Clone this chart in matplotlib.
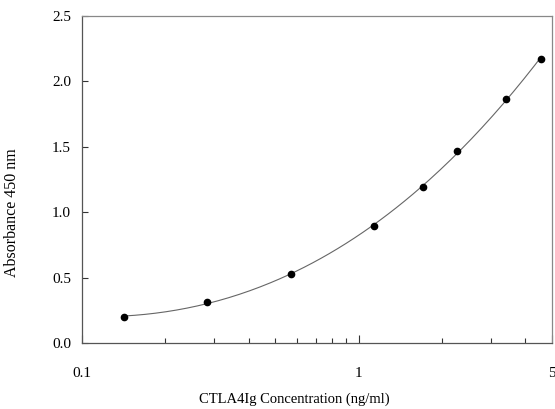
import numpy as np
import matplotlib
matplotlib.use("Agg")
import matplotlib.pyplot as plt
from matplotlib.ticker import FixedLocator, FixedFormatter, NullFormatter

# Data
conc = [0.142, 0.284, 0.569, 1.138, 1.706, 2.275, 3.413, 4.55]
absorb = [0.201, 0.316, 0.525, 0.892, 1.195, 1.470, 1.868, 2.169]
xtick_vals = [0.1, 1, 5]
xtick_labels = ["0.1", "1", "5"]
ytick_vals = [0.0, 0.5, 1.0, 1.5, 2.0, 2.5]
ytick_labels = ["0.0", "0.5", "1.0", "1.5", "2.0", "2.5"]

plt.rcParams['font.family'] = ['Liberation Serif', 'DejaVu Serif']

fig = plt.figure(figsize=(5.55, 4.09), dpi=100)
ax = fig.add_axes([82/555, 66/409, 470/555, 327/409])

# smooth fitted curve through the standards (cubic in log-concentration)
lx = np.log10(conc)
coef = np.polyfit(lx, absorb, 3)
xs = np.linspace(lx[0], lx[-1], 200)
ax.plot(10**xs, np.polyval(coef, xs), color='#666666', lw=0.8)
ax.plot(conc, absorb, 'o', color='black', ms=4.5)

ax.set_xscale('log')
ax.set_xlim(0.1, 5)
ax.set_ylim(0, 2.5)

ax.xaxis.set_major_locator(FixedLocator(xtick_vals))
ax.xaxis.set_major_formatter(FixedFormatter(xtick_labels))
ax.xaxis.set_minor_locator(FixedLocator([0.2, 0.3, 0.4, 0.5, 0.6, 0.7, 0.8, 0.9, 2, 3, 4]))
ax.xaxis.set_minor_formatter(NullFormatter())
ax.yaxis.set_major_locator(FixedLocator(ytick_vals))
ax.yaxis.set_major_formatter(FixedFormatter(ytick_labels))

ax.tick_params(axis='x', which='major', direction='in', length=6, width=0.8, pad=17, labelsize=11, color='#333333')
ax.tick_params(axis='x', which='minor', direction='in', length=3.5, width=0.8, color='#333333')
ax.tick_params(axis='y', which='major', direction='in', length=4, width=0.8, pad=8, labelsize=11, color='#333333')

for s in ax.spines.values():
    s.set_color('#555555')
    s.set_linewidth(0.9)
for s in ['top', 'right']:
    ax.spines[s].set_color('#888888')

ax.set_xlabel("CTLA4Ig Concentration (ng/ml)", fontsize=10.5)
ax.xaxis.set_label_coords(0.451, -0.152)
ax.set_ylabel("Absorbance 450 nm", fontsize=11.5)
ax.yaxis.set_label_coords(-0.132, 0.40)

fig.savefig("out.png", dpi=100)
